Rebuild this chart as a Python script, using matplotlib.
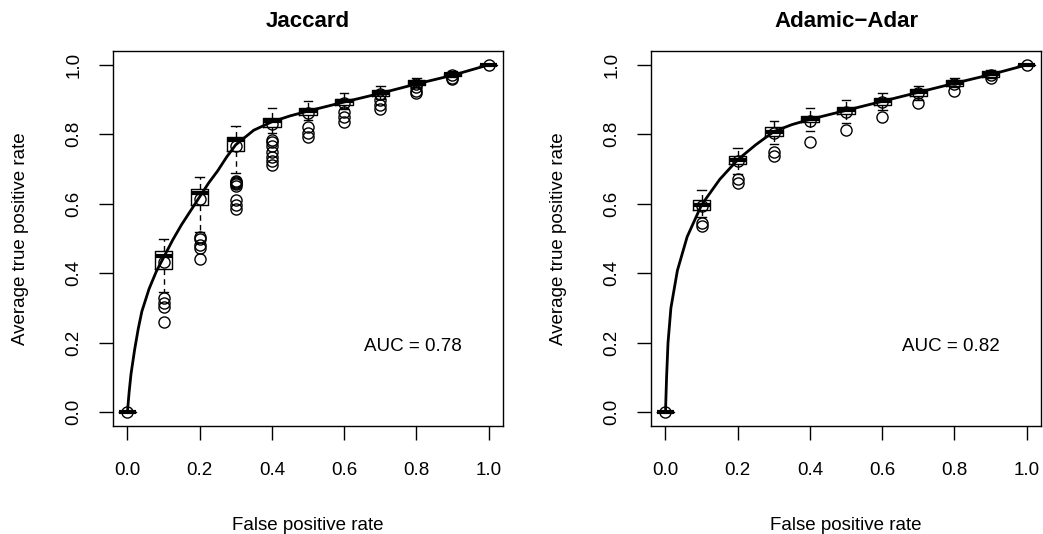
import matplotlib
matplotlib.use("Agg")
import matplotlib.pyplot as plt

plt.rcParams['font.family'] = ['Liberation Sans', 'DejaVu Sans']

fpr = [0.0, 0.1, 0.2, 0.3, 0.4, 0.5, 0.6, 0.7, 0.8, 0.9, 1.0]

# Jaccard: box statistics per false positive rate
jac_q1 = [0, 0.411, 0.596, 0.751, 0.820, 0.856, 0.885, 0.911, 0.942, 0.968, 1.0]
jac_med = [0, 0.451, 0.632, 0.783, 0.839, 0.866, 0.895, 0.920, 0.949, 0.973, 1.0]
jac_q3 = [0, 0.463, 0.644, 0.791, 0.847, 0.875, 0.903, 0.927, 0.956, 0.978, 1.0]
jac_wlo = [0, 0.346, 0.520, 0.690, 0.805, 0.842, 0.872, 0.902, 0.936, 0.964, 1.0]
jac_whi = [0, 0.500, 0.678, 0.825, 0.877, 0.897, 0.918, 0.939, 0.961, 0.982, 1.0]
jac_mean = [0, 0.431, 0.614, 0.767, 0.830, 0.862, 0.890, 0.915, 0.945, 0.970, 1.0]
jac_out = [[], [0.328, 0.313, 0.302, 0.261],
           [0.505, 0.500, 0.480, 0.474, 0.442],
           [0.667, 0.663, 0.660, 0.656, 0.652, 0.610, 0.597, 0.585],
           [0.785, 0.778, 0.765, 0.750, 0.735, 0.722, 0.712],
           [0.822, 0.805, 0.791], [0.863, 0.849, 0.836],
           [0.899, 0.884, 0.874], [0.935, 0.925, 0.918],
           [0.963, 0.958], []]
jac_curve_x = [0, 0.005, 0.01, 0.02, 0.03, 0.04, 0.06, 0.08, 0.1, 0.125, 0.15,
               0.175, 0.2, 0.225, 0.25, 0.275, 0.3, 0.35, 0.4, 0.45, 0.5, 0.6,
               0.7, 0.8, 0.9, 1.0]
jac_curve_y = [0, 0.06, 0.11, 0.18, 0.24, 0.29, 0.355, 0.405, 0.445, 0.495, 0.54,
               0.58, 0.62, 0.66, 0.695, 0.735, 0.77, 0.812, 0.836, 0.853, 0.867,
               0.893, 0.918, 0.945, 0.97, 1.0]

# Adamic-Adar
aa_q1 = [0, 0.583, 0.714, 0.796, 0.835, 0.858, 0.885, 0.911, 0.940, 0.966, 1.0]
aa_med = [0, 0.597, 0.727, 0.808, 0.843, 0.869, 0.895, 0.921, 0.948, 0.973, 1.0]
aa_q3 = [0, 0.611, 0.738, 0.820, 0.852, 0.879, 0.904, 0.930, 0.957, 0.981, 1.0]
aa_wlo = [0, 0.561, 0.686, 0.772, 0.810, 0.834, 0.870, 0.900, 0.935, 0.963, 1.0]
aa_whi = [0, 0.640, 0.762, 0.839, 0.875, 0.898, 0.918, 0.940, 0.962, 0.985, 1.0]
aa_mean = [0, 0.595, 0.723, 0.803, 0.838, 0.865, 0.893, 0.919, 0.946, 0.971, 1.0]
aa_out = [[], [0.545, 0.537], [0.671, 0.659], [0.748, 0.739], [0.777],
          [0.812], [0.851], [0.889], [0.925], [0.962], []]
aa_curve_x = [0, 0.003, 0.007, 0.015, 0.033, 0.06, 0.1, 0.15, 0.2, 0.25, 0.3,
              0.35, 0.4, 0.5, 0.6, 0.7, 0.8, 0.9, 1.0]
aa_curve_y = [0, 0.10, 0.20, 0.30, 0.408, 0.505, 0.597, 0.67, 0.727, 0.77, 0.808,
              0.828, 0.843, 0.869, 0.895, 0.921, 0.947, 0.972, 1.0]

panels = [
    ("Jaccard", "AUC = 0.78", jac_q1, jac_med, jac_q3, jac_wlo, jac_whi,
     jac_mean, jac_out, jac_curve_x, jac_curve_y),
    ("Adamic\u2212Adar", "AUC = 0.82", aa_q1, aa_med, aa_q3, aa_wlo, aa_whi,
     aa_mean, aa_out, aa_curve_x, aa_curve_y),
]

fig = plt.figure(figsize=(10.43, 5.34), dpi=100)
lefts = [0.1083, 0.6242]

for left, (title, auc, q1, med, q3, wlo, whi, mean, out, cx, cy) in zip(lefts, panels):
    ax = fig.add_axes([left, 0.2022, 0.3740, 0.7023])
    stats = []
    for i in range(len(fpr)):
        stats.append(dict(q1=q1[i], med=med[i], q3=q3[i], whislo=wlo[i],
                          whishi=whi[i], fliers=out[i]))
    ax.bxp(stats, positions=fpr, widths=0.048, capwidths=0.024,
           manage_ticks=False,
           boxprops=dict(color='black', linewidth=1),
           medianprops=dict(color='black', linewidth=3),
           whiskerprops=dict(color='black', linewidth=1, linestyle=(0, (4, 3))),
           capprops=dict(color='black', linewidth=1),
           flierprops=dict(marker='o', markerfacecolor='none',
                           markeredgecolor='black', markersize=8,
                           markeredgewidth=1))
    ax.plot(fpr, mean, 'o', mfc='none', mec='black', ms=8, mew=1)
    ax.plot(cx, cy, color='black', linewidth=2)

    ax.set_xlim(-0.04, 1.04)
    ax.set_ylim(-0.04, 1.04)
    ticks = [0.0, 0.2, 0.4, 0.6, 0.8, 1.0]
    ax.set_xticks(ticks)
    ax.set_yticks(ticks)
    ax.set_xticklabels(["%.1f" % t for t in ticks])
    ax.set_yticklabels(["%.1f" % t for t in ticks], rotation=90, va='center')
    ax.tick_params(direction='out', length=10, width=1, labelsize=13.5,
                   color='black')
    ax.tick_params(axis='x', pad=16)
    ax.tick_params(axis='y', pad=12)
    for s in ax.spines.values():
        s.set_linewidth(1)
        s.set_color('black')

    ax.set_title(title, fontsize=16, fontweight='bold', pad=17)
    ax.set_xlabel("False positive rate", fontsize=13.5, labelpad=27)
    ax.set_ylabel("Average true positive rate", fontsize=13.5, labelpad=26)
    ax.text(0.79, 0.19, auc, fontsize=13.5, ha='center', va='center')

fig.savefig("out.png", dpi=100)
